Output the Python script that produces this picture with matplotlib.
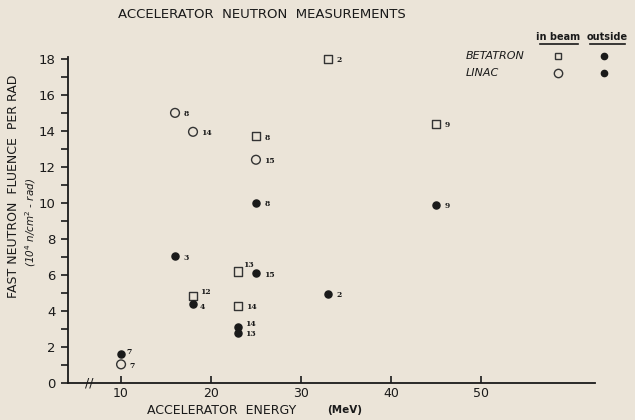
"""
Accelerator neutron measurements: fast neutron fluence per rad vs energy.
"""
import matplotlib
matplotlib.use("Agg")
import matplotlib.pyplot as plt
from matplotlib.lines import Line2D

# ── Data ──────────────────────────────────────────────────────────────────────

betatron_in_x   = [33, 25, 45, 18, 23, 23]
betatron_in_y   = [18.0, 13.7, 14.4, 4.85, 6.2, 4.3]
betatron_in_lbl = ["2", "8", "9", "12", "13", "14"]

linac_in_x   = [16, 18, 25, 10]
linac_in_y   = [15.0, 13.95, 12.4, 1.05]
linac_in_lbl = ["8", "14", "15", "7"]

outside_x   = [33, 45, 25, 16, 25, 18, 23, 23, 10]
outside_y   = [4.95, 9.9, 10.0, 7.05, 6.1, 4.4, 3.15, 2.8, 1.6]
outside_lbl = ["2", "9", "8", "3", "15", "4", "14", "13", "7"]

x_ticks = [10, 20, 30, 40, 50]
y_ticks = [0, 2, 4, 6, 8, 10, 12, 14, 16, 18]

# label offsets in points (dx, dy); default is just right of the marker
label_shift = {
    ("sq", "12"): (5, 3),
    ("sq", "13"): (4, 5),
    ("fill", "4"): (5, -2),
    ("fill", "7"): (4, 2),
    ("fill", "14"): (5, 2),
    ("fill", "13"): (5, -1),
}

BG  = "#ebe4d8"
INK = "#1a1a1a"

plt.rcParams["font.family"] = ["DejaVu Sans"]

fig = plt.figure(figsize=(6.35, 4.2), dpi=100, facecolor=BG)
ax = fig.add_axes([68 / 635, 1 - 383.3 / 420, (595 - 68) / 635, (383.3 - 57) / 420])
ax.set_facecolor(BG)

ax.set_xlim(4.1, 62.7)
ax.set_ylim(0, 18.1)

for side in ("top", "right"):
    ax.spines[side].set_visible(False)
for side in ("left", "bottom"):
    ax.spines[side].set_color(INK)
    ax.spines[side].set_linewidth(1.3)

ax.set_xticks(x_ticks)
ax.set_yticks(y_ticks)
ax.set_yticks(range(1, 18, 2), minor=True)
ax.tick_params(axis="x", direction="in", length=5, width=1.2, colors=INK,
               labelsize=9, pad=3)
ax.tick_params(axis="y", which="both", direction="out", length=5, width=1.2,
               colors=INK, labelsize=9.5, pad=4)

# ── Markers ───────────────────────────────────────────────────────────────────

ax.scatter(betatron_in_x, betatron_in_y, marker="s", s=36, facecolors="none",
           edgecolors="#333333", linewidths=1.0, clip_on=False, zorder=3)
ax.scatter(linac_in_x, linac_in_y, marker="o", s=40, facecolors="none",
           edgecolors="#333333", linewidths=1.0, clip_on=False, zorder=3)
ax.scatter(outside_x, outside_y, marker="o", s=26, color=INK,
           clip_on=False, zorder=3)


def put_labels(xs, ys, labels, kind):
    for x, y, t in zip(xs, ys, labels):
        dx, dy = label_shift.get((kind, t), (6, -1))
        ax.annotate(t, (x, y), xytext=(dx, dy), textcoords="offset points",
                    fontsize=5.5, fontweight="bold", family="DejaVu Serif",
                    color=INK, ha="left", va="center")


put_labels(betatron_in_x, betatron_in_y, betatron_in_lbl, "sq")
put_labels(linac_in_x, linac_in_y, linac_in_lbl, "circ")
put_labels(outside_x, outside_y, outside_lbl, "fill")

# axis break mark
ax.text(6.5, 0, "//", ha="center", va="center", fontsize=9, color=INK,
        clip_on=False)

# ── Text ──────────────────────────────────────────────────────────────────────

fig.text(262 / 635, 1 - 15 / 420, "ACCELERATOR  NEUTRON  MEASUREMENTS",
         ha="center", va="center", fontsize=9.5, color=INK)

fig.text(222 / 635, 1 - 410 / 420, "ACCELERATOR  ENERGY", ha="center",
         va="center", fontsize=9, color=INK)
fig.text(345 / 635, 1 - 410 / 420, "(MeV)", ha="center", va="center",
         fontsize=7.5, fontweight="bold", color=INK)

fig.text(14 / 635, 1 - 186 / 420, "FAST NEUTRON  FLUENCE  PER RAD",
         rotation=90, ha="center", va="center", fontsize=9, color=INK)
fig.text(31 / 635, 1 - 222 / 420, r"(10$^{4}$ n/cm$^{2}$ - rad)",
         rotation=90, ha="center", va="center", fontsize=7.5,
         style="italic", color=INK)

# ── Legend (hand-built table) ─────────────────────────────────────────────────

fig.text(558 / 635, 1 - 37 / 420, "in beam", ha="center", va="center",
         fontsize=7, fontweight="bold", color=INK)
fig.text(607 / 635, 1 - 37 / 420, "outside", ha="center", va="center",
         fontsize=7, fontweight="bold", color=INK)
for x0, x1 in [(540, 578), (590, 625)]:
    fig.add_artist(Line2D([x0 / 635, x1 / 635], [1 - 44 / 420] * 2,
                          transform=fig.transFigure, color=INK, lw=1.2))

fig.text(466 / 635, 1 - 56 / 420, "BETATRON", ha="left", va="center",
         fontsize=8, style="italic", color=INK)
fig.text(466 / 635, 1 - 73 / 420, "LINAC", ha="left", va="center",
         fontsize=8, style="italic", color=INK)

fig.add_artist(Line2D([558 / 635], [1 - 56 / 420], transform=fig.transFigure,
                      marker="s", ms=5, mfc="none", mec="#333333", mew=1.0))
fig.add_artist(Line2D([558 / 635], [1 - 73 / 420], transform=fig.transFigure,
                      marker="o", ms=6, mfc="none", mec="#333333", mew=1.0))
for yy in (56, 73):
    fig.add_artist(Line2D([604 / 635], [1 - yy / 420], transform=fig.transFigure,
                          marker="o", ms=4.5, color=INK, lw=0))

fig.savefig("out.png", dpi=100, facecolor=BG)
